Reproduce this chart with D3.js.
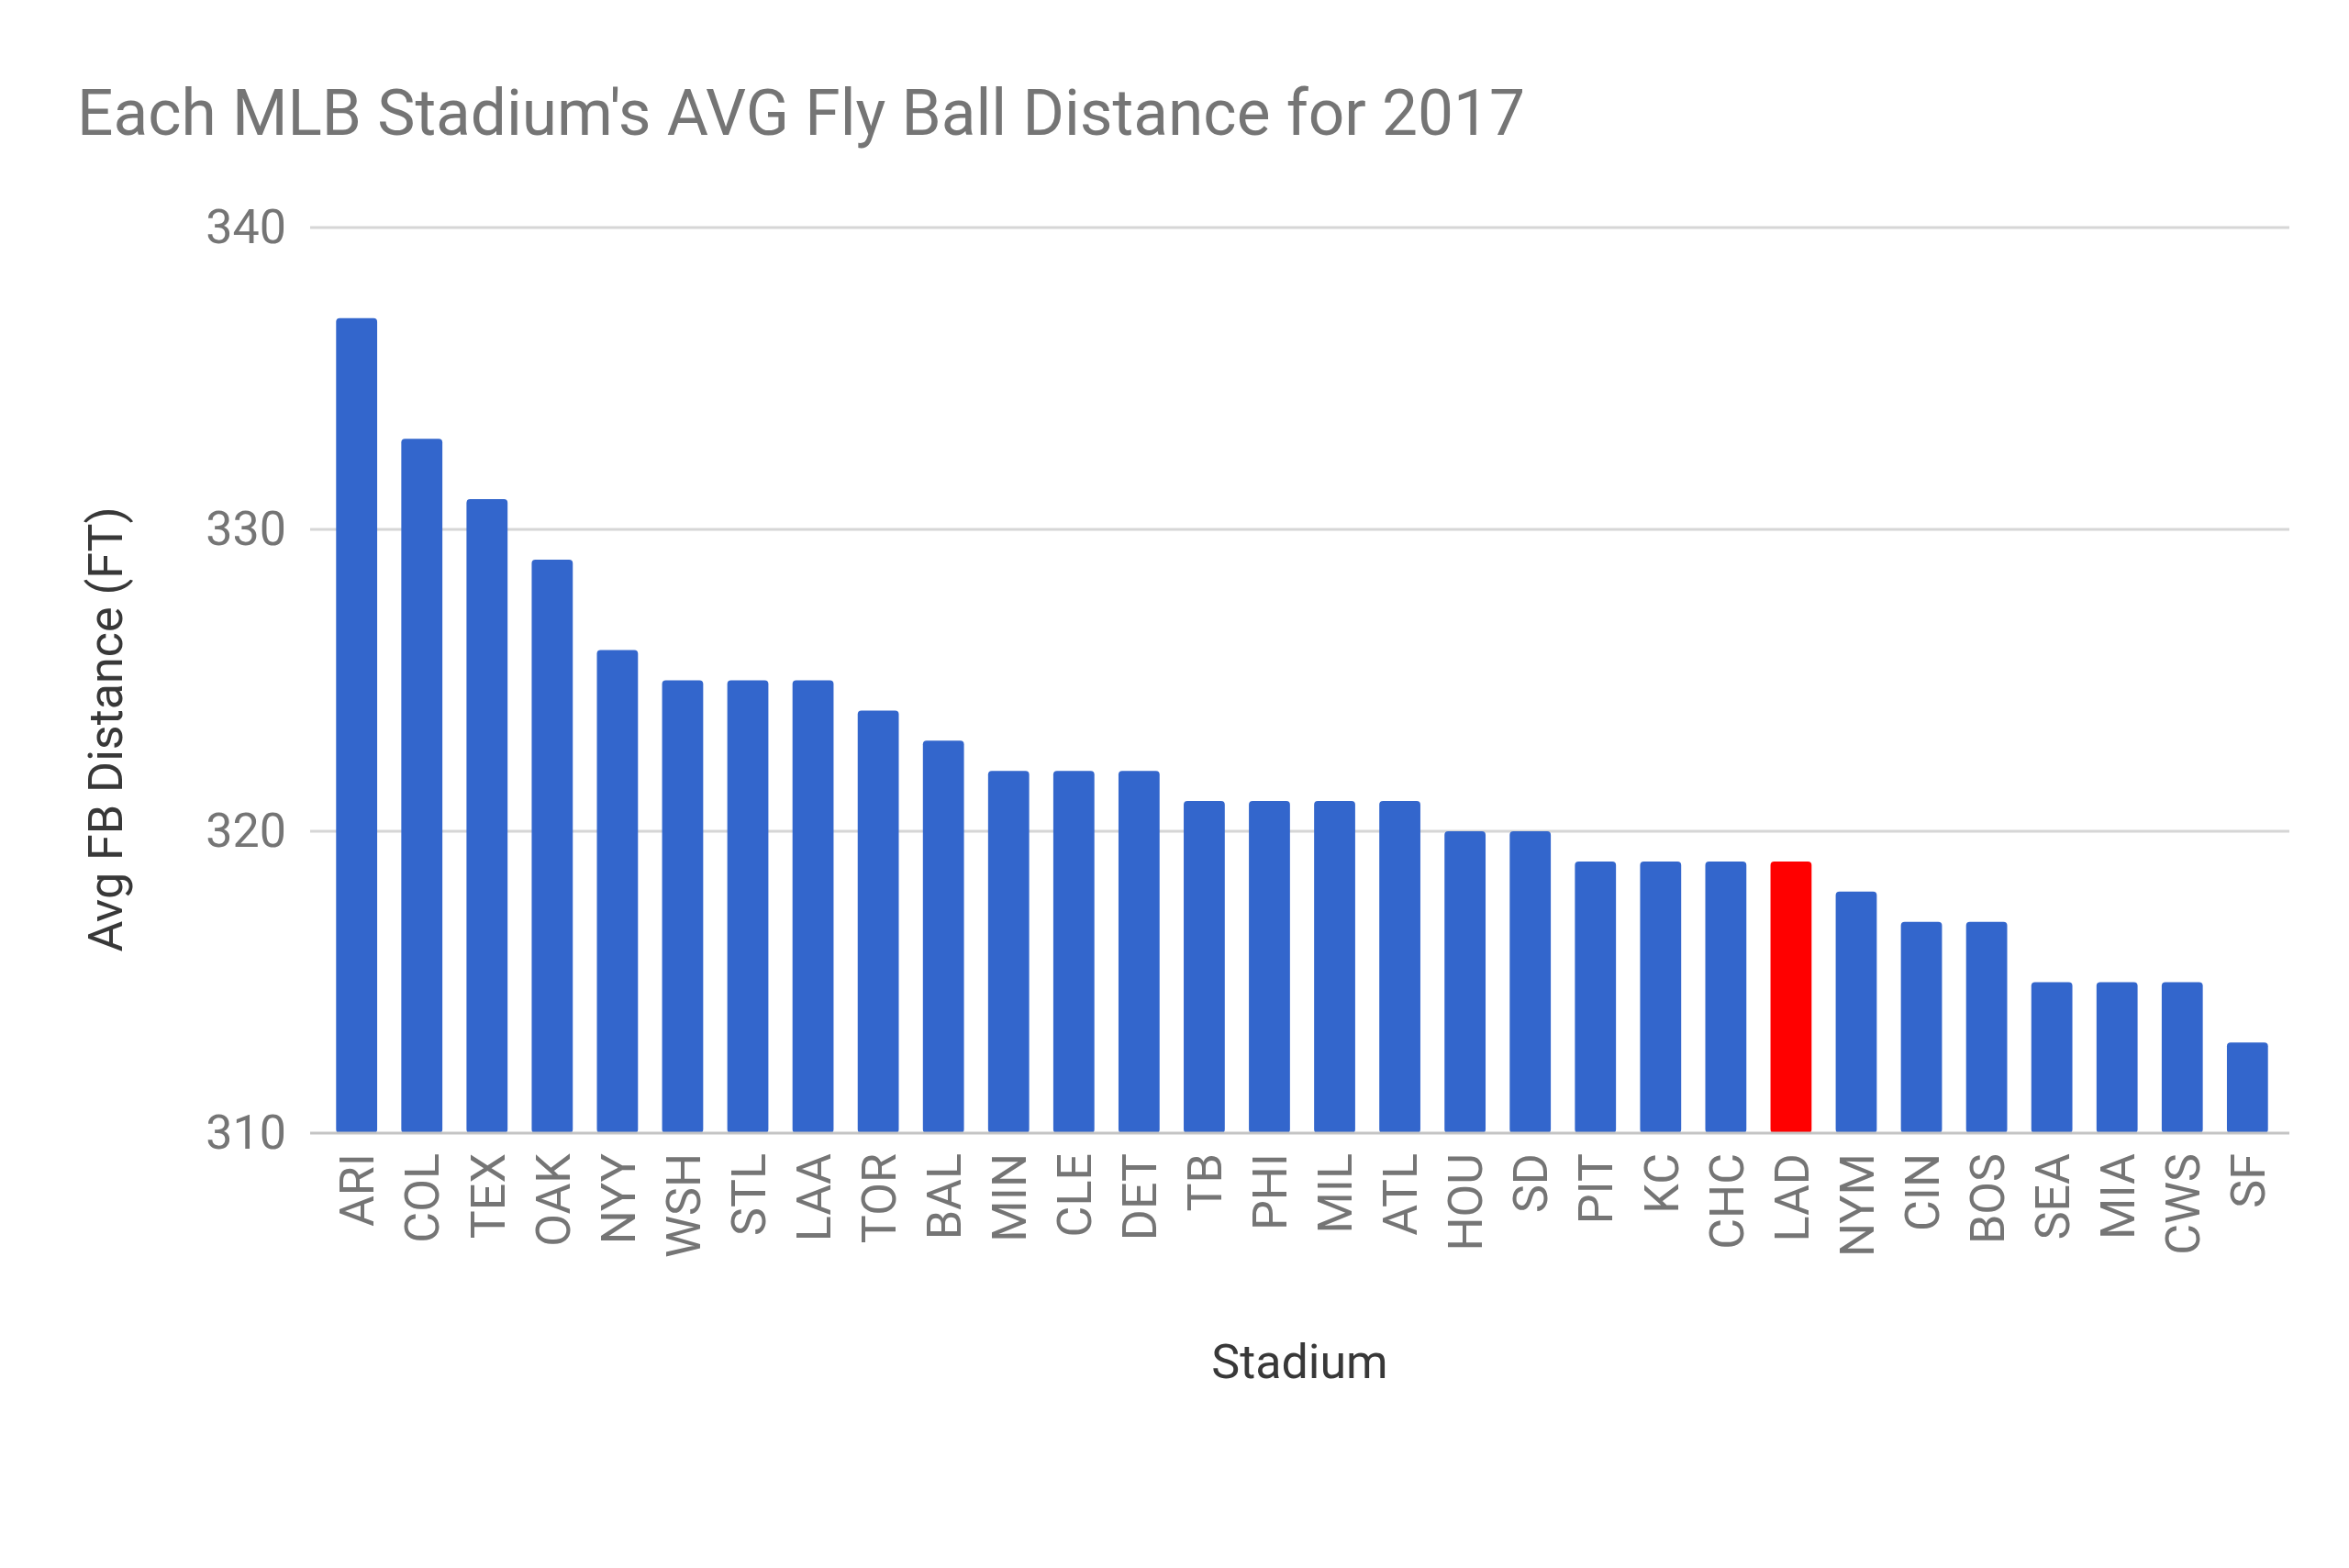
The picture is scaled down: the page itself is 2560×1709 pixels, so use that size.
<!DOCTYPE html>
<html>
<head>
<meta charset="utf-8">
<script src="https://cdn.jsdelivr.net/npm/d3@7"></script>
<style>
  html, body { margin: 0; padding: 0; background: #fff; }
  svg { display: block; font-family: Roboto, "Noto Sans", sans-serif; }
</style>
</head>
<body>
<svg id="chart" width="2560" height="1709"></svg>
<script>
const titleText = "Each MLB Stadium's AVG Fly Ball Distance for 2017";
const xTitle = "Stadium";
const yTitle = "Avg FB Distance (FT)";
const categories = ["ARI","COL","TEX","OAK","NYY","WSH","STL","LAA","TOR","BAL","MIN","CLE","DET","TB","PHI","MIL","ATL","HOU","SD","PIT","KC","CHC","LAD","NYM","CIN","BOS","SEA","MIA","CWS","SF"];
const values = [337,333,331,329,326,325,325,325,324,323,322,322,322,321,321,321,321,320,320,319,319,319,319,318,317,317,315,315,315,313];
const highlighted = ["LAD"];
const yTicks = [310, 320, 330, 340];

(function () {
const svg = d3.select("#chart");
const pLeft = 338, pRight = 2495, pTop = 248, pBottom = 1235;

const x = d3.scaleBand().domain(categories).range([340, 2498]).paddingInner(0.37).paddingOuter(0.37);
const y = d3.scaleLinear().domain([310, 340]).range([pBottom, pTop]);

// Title
svg.append("text")
  .attr("x", 84).attr("y", 147)
  .attr("fill", "#757575")
  .attr("font-size", 70)
  .attr("textLength", 1578).attr("lengthAdjust", "spacingAndGlyphs")
  .text(titleText);

// Gridlines
svg.append("g").selectAll("line").data(yTicks.filter(d => d !== 310)).join("line")
  .attr("x1", pLeft).attr("x2", pRight)
  .attr("y1", d => y(d)).attr("y2", d => y(d))
  .attr("stroke", "#d6d6d6").attr("stroke-width", 3);

// Y axis labels
const yAxis = d3.axisLeft(y).tickValues(yTicks).tickSize(0).tickPadding(26).tickFormat(d3.format("d"));
const ya = svg.append("g").attr("transform", `translate(${pLeft},0)`).call(yAxis);
ya.select(".domain").remove();
ya.selectAll("text").attr("font-size", 52).attr("fill", "#757575").attr("font-family", "Roboto, sans-serif");

// Bars
svg.append("g").selectAll("rect").data(categories).join("rect")
  .attr("x", d => x(d))
  .attr("width", x.bandwidth())
  .attr("y", (d, i) => y(values[i]))
  .attr("height", (d, i) => y(310) - y(values[i]))
  .attr("rx", 4)
  .attr("fill", d => highlighted.includes(d) ? "#FF0000" : "#3366CC");

// Baseline
svg.append("line")
  .attr("x1", pLeft).attr("x2", pRight)
  .attr("y1", y(310)).attr("y2", y(310))
  .attr("stroke", "#c4c4c4").attr("stroke-width", 3);

// X axis labels
const xAxis = d3.axisBottom(x).tickSize(0).tickPadding(0);
const xa = svg.append("g").attr("transform", `translate(0,${pBottom})`).call(xAxis);
xa.select(".domain").remove();
xa.selectAll("text")
  .attr("font-size", 52).attr("fill", "#757575").attr("font-family", "Roboto, sans-serif")
  .attr("transform", "rotate(-90)")
  .attr("text-anchor", "end")
  .attr("x", -22).attr("y", 0).attr("dy", "0.36em");

// Axis titles
svg.append("text")
  .attr("x", (pLeft + pRight) / 2).attr("y", 1502)
  .attr("text-anchor", "middle")
  .attr("font-size", 52).attr("fill", "#383838")
  .text(xTitle);

svg.append("text")
  .attr("transform", "translate(133,795) rotate(-90)")
  .attr("text-anchor", "middle")
  .attr("font-size", 52).attr("fill", "#383838")
  .text(yTitle);
})();
</script>
</body>
</html>
